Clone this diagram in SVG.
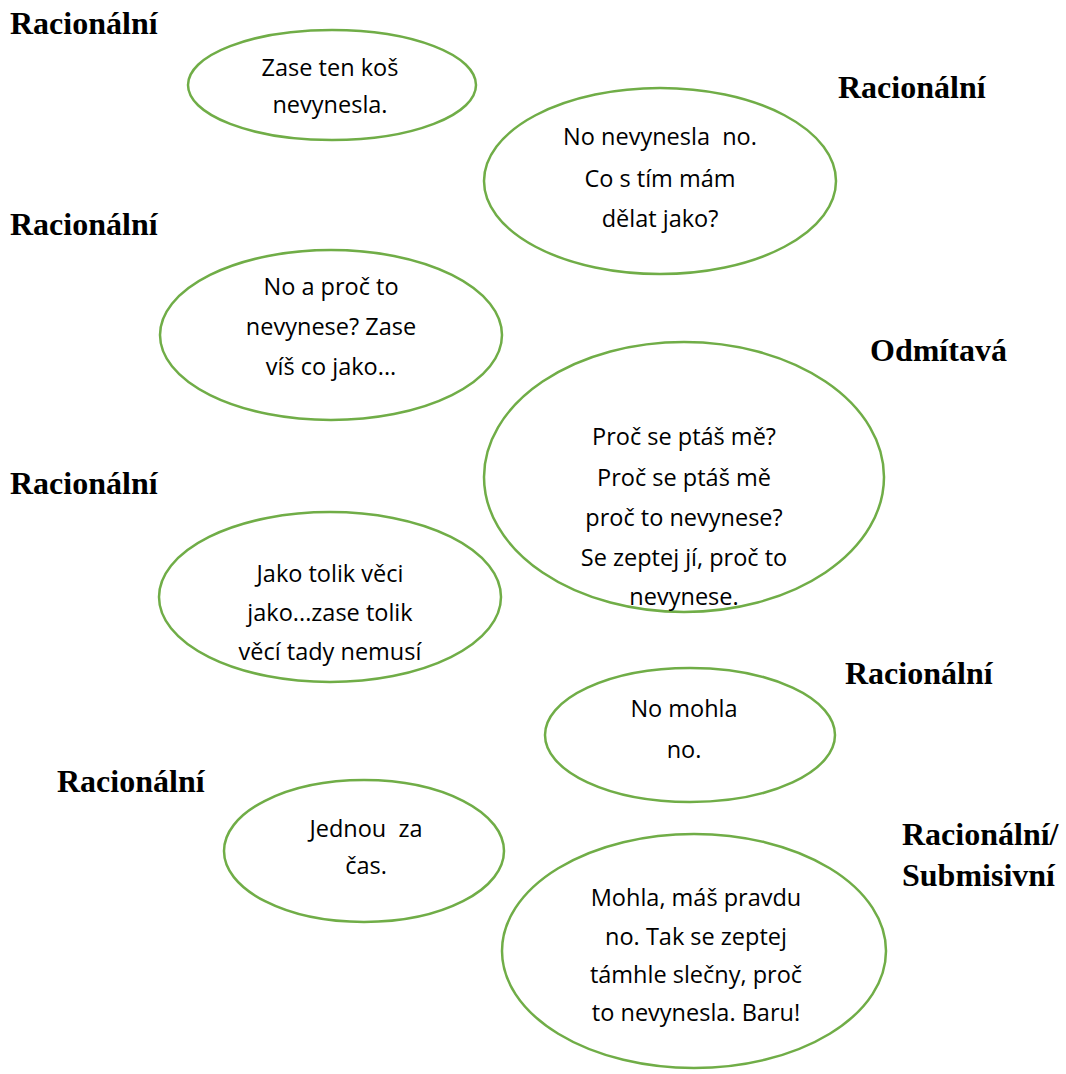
<svg xmlns="http://www.w3.org/2000/svg" width="1066" height="1074" viewBox="0 0 1066 1074">
<style>
.bubble{fill:#ffffff;stroke:#70AD47;stroke-width:2.5}
.t{font-family:"Open Sans","Liberation Sans",sans-serif;font-size:23.5px;fill:#000;text-anchor:middle;white-space:pre}
.lab{font-family:"Liberation Serif","Times New Roman",serif;font-size:32px;font-weight:bold;fill:#000}
</style>
<rect width="1066" height="1074" fill="#ffffff"/>
<g id="connectors"></g>
<g id="labels">
<text class="lab" x="10" y="34">Racionální</text>
<text class="lab" x="838" y="98">Racionální</text>
<text class="lab" x="10" y="235">Racionální</text>
<text class="lab" x="870" y="361">Odmítavá</text>
<text class="lab" x="10" y="494">Racionální</text>
<text class="lab" x="845" y="684">Racionální</text>
<text class="lab" x="57" y="792">Racionální</text>
<text class="lab" x="902" y="845">Racionální/</text>
<text class="lab" x="902" y="886">Submisivní</text>
</g>
<g id="n1">
<ellipse class="bubble" cx="332" cy="85" rx="144" ry="55"/>
<text class="t" x="330" y="76">Zase ten koš</text>
<text class="t" x="330" y="113">nevynesla.</text>
</g>
<g id="n2">
<ellipse class="bubble" cx="660" cy="181" rx="176" ry="93"/>
<text class="t" x="660" y="145" xml:space="preserve">No nevynesla  no.</text>
<text class="t" x="660" y="187">Co s tím mám</text>
<text class="t" x="660" y="227">dělat jako?</text>
</g>
<g id="n3">
<ellipse class="bubble" cx="331" cy="335" rx="171" ry="85"/>
<text class="t" x="331" y="295">No a proč to</text>
<text class="t" x="331" y="335">nevynese? Zase</text>
<text class="t" x="331" y="375">víš co jako...</text>
</g>
<g id="n4">
<ellipse class="bubble" cx="684" cy="477" rx="200" ry="135"/>
<text class="t" x="684" y="445">Proč se ptáš mě?</text>
<text class="t" x="684" y="486">Proč se ptáš mě</text>
<text class="t" x="684" y="526">proč to nevynese?</text>
<text class="t" x="684" y="566">Se zeptej jí, proč to</text>
<text class="t" x="684" y="605">nevynese.</text>
</g>
<g id="n5">
<ellipse class="bubble" cx="330" cy="597" rx="171" ry="85"/>
<text class="t" x="330" y="582">Jako tolik věci</text>
<text class="t" x="330" y="621">jako...zase tolik</text>
<text class="t" x="330" y="660">věcí tady nemusí</text>
</g>
<g id="n6">
<ellipse class="bubble" cx="690" cy="735" rx="145" ry="67"/>
<text class="t" x="684" y="717">No mohla</text>
<text class="t" x="684" y="758">no.</text>
</g>
<g id="n7">
<ellipse class="bubble" cx="364" cy="851" rx="140" ry="71"/>
<text class="t" x="366" y="837" xml:space="preserve">Jednou  za</text>
<text class="t" x="366" y="874">čas.</text>
</g>
<g id="n8">
<ellipse class="bubble" cx="694" cy="951" rx="192" ry="117"/>
<text class="t" x="696" y="906">Mohla, máš pravdu</text>
<text class="t" x="696" y="945">no. Tak se zeptej</text>
<text class="t" x="696" y="983">támhle slečny, proč</text>
<text class="t" x="696" y="1021">to nevynesla. Baru!</text>
</g>
</svg>
